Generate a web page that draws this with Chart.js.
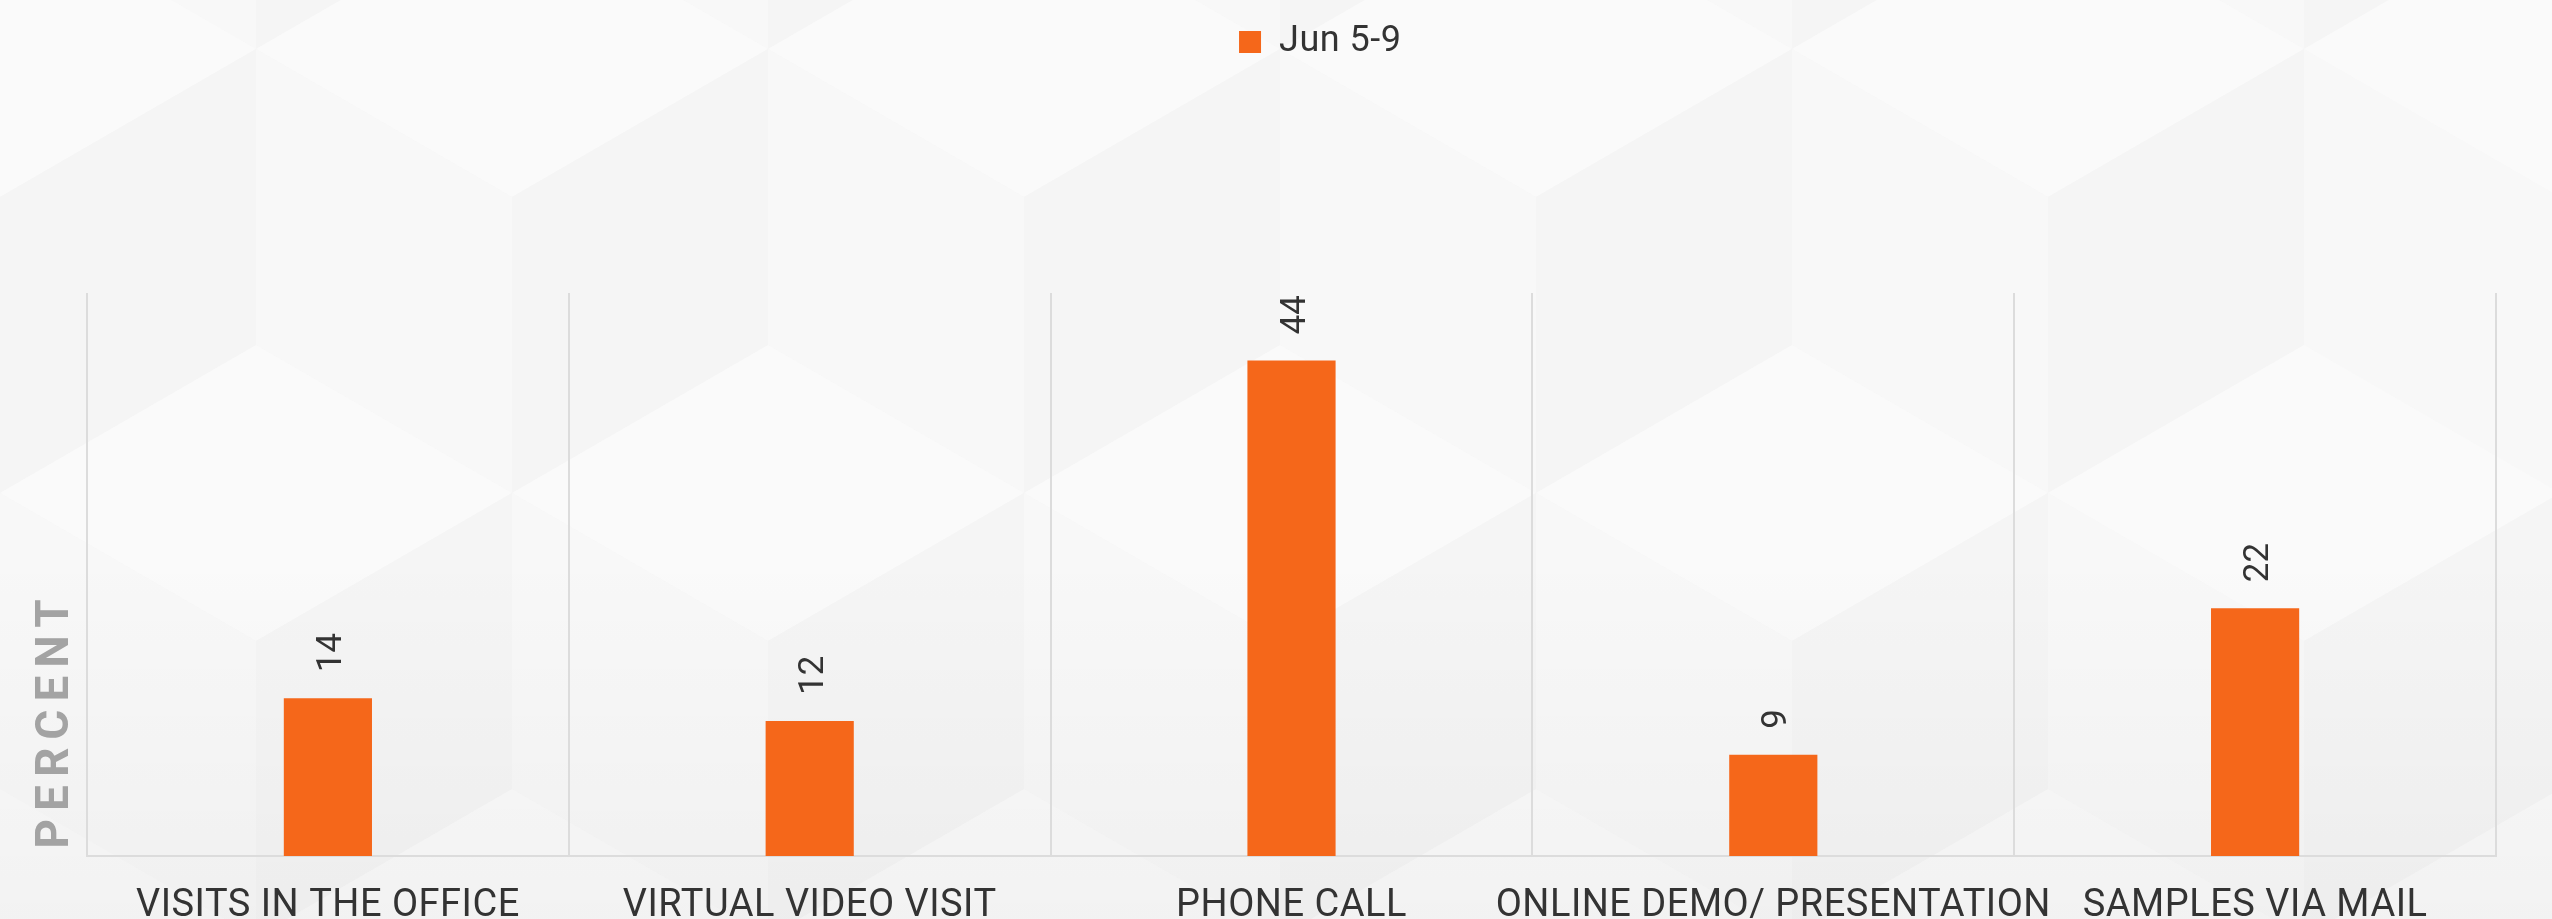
<!DOCTYPE html>
<html>
<head>
<meta charset="utf-8">
<script src="https://cdn.jsdelivr.net/npm/chart.js@4"></script>
<style>
  html, body { margin: 0; padding: 0; background: #f5f5f5; }
  #wrap { width: 2552px; height: 919px; }
</style>
</head>
<body>
<div id="wrap"><canvas id="contacts" width="2552" height="919"></canvas></div>
<script>
const categories = ['VISITS IN THE OFFICE', 'VIRTUAL VIDEO VISIT', 'PHONE CALL', 'ONLINE DEMO/ PRESENTATION', 'SAMPLES VIA MAIL'];
const weekLabel = 'Jun 5-9';
const weekValues = [14, 12, 44, 9, 22];
const yMin = 0;
const yMax = 50;

const labelFont = '"Liberation Sans Narrow", "Roboto", sans-serif';
const orange = '#F5671A';

// pale isometric cube pattern behind everything
const backdrop = {
  id: 'backdrop',
  beforeDraw(chart) {
    const ctx = chart.ctx;
    const w = chart.width, h = chart.height;
    const edge = 296, hw = 256, hh = 148;
    const poly = (pts, color) => {
      ctx.fillStyle = color;
      ctx.beginPath();
      ctx.moveTo(pts[0][0], pts[0][1]);
      for (let i = 1; i < pts.length; i++) ctx.lineTo(pts[i][0], pts[i][1]);
      ctx.closePath();
      ctx.fill();
    };
    ctx.save();
    ctx.fillStyle = '#f7f7f7';
    ctx.fillRect(0, 0, w, h);
    for (let m = -1; m <= 1; m++) {
      for (let row = 0; row < 2; row++) {
        const cy = 197 + 888 * m + 444 * row;
        const xoff = row ? 256 : 0;
        for (let k = -1; k <= 6; k++) {
          const cx = xoff + 512 * k;
          poly([[cx, cy], [cx - hw, cy - hh], [cx, cy - edge], [cx + hw, cy - hh]], '#fafafa');
          poly([[cx, cy], [cx, cy + edge], [cx - hw, cy + hh], [cx - hw, cy - hh]], '#f8f8f8');
          poly([[cx, cy], [cx + hw, cy - hh], [cx + hw, cy + hh], [cx, cy + edge]], '#f5f5f5');
        }
      }
    }
    const shade = ctx.createLinearGradient(0, 550, 0, h);
    shade.addColorStop(0, 'rgba(0,0,0,0)');
    shade.addColorStop(1, 'rgba(0,0,0,0.03)');
    ctx.fillStyle = shade;
    ctx.fillRect(0, 550, w, h - 550);
    ctx.restore();
    ctx.letterSpacing = '0.5px';
  }
};

// rotated value labels above the bars and the spaced-out axis title
const annotations = {
  id: 'annotations',
  beforeInit(chart) {
    const legend = chart.legend;
    const fit = legend.fit;
    legend.fit = function () {
      fit.call(this);
      this.height = 293;
    };
  },
  afterLayout(chart) {
    // legend sits a little right of the page centre
    chart.legend.left = 141;
  },
  afterDatasetsDraw(chart) {
    const ctx = chart.ctx;
    const meta = chart.getDatasetMeta(0);
    ctx.save();
    ctx.letterSpacing = '0px';
    ctx.font = '35px ' + labelFont;
    ctx.fillStyle = '#333333';
    ctx.textAlign = 'left';
    ctx.textBaseline = 'alphabetic';
    meta.data.forEach((bar, i) => {
      ctx.save();
      ctx.translate(bar.x + 13, bar.y - 26);
      ctx.rotate(-Math.PI / 2);
      ctx.fillText(String(weekValues[i]), 0, 0);
      ctx.restore();
    });

    const area = chart.chartArea;
    ctx.letterSpacing = '8px';
    ctx.font = 'bold 46px ' + labelFont;
    ctx.fillStyle = '#a3a3a3';
    ctx.textAlign = 'center';
    ctx.translate(area.left - 19, area.bottom - 132);
    ctx.rotate(-Math.PI / 2);
    ctx.fillText('PERCENT', 4, 0);
    ctx.restore();
  }
};

new Chart(document.getElementById('contacts').getContext('2d'), {
  type: 'bar',
  data: {
    labels: categories,
    datasets: [{
      label: weekLabel,
      data: weekValues,
      backgroundColor: orange,
      borderWidth: 0,
      categoryPercentage: 1,
      barPercentage: 0.183
    }]
  },
  options: {
    responsive: false,
    animation: false,
    layout: { padding: { left: 0, right: 56, top: 0, bottom: 0 } },
    scales: {
      x: {
        grid: { color: '#dcdcdc', lineWidth: 2, offset: true, drawTicks: false },
        border: { color: '#dcdcdc', width: 2 },
        ticks: { font: { family: labelFont, size: 38 }, color: '#333333', padding: 28, maxRotation: 0, autoSkip: false },
        afterFit(scale) { scale.height = 63; }
      },
      y: {
        min: yMin,
        max: yMax,
        ticks: { display: false },
        grid: { display: false },
        border: { display: false },
        afterFit(scale) { scale.width = 87; }
      }
    },
    plugins: {
      legend: {
        position: 'top',
        labels: {
          boxWidth: 22,
          boxHeight: 22,
          padding: 24,
          color: '#333333',
          font: { family: labelFont, size: 36 }
        }
      },
      tooltip: { enabled: false }
    }
  },
  plugins: [backdrop, annotations]
});
</script>
</body>
</html>
